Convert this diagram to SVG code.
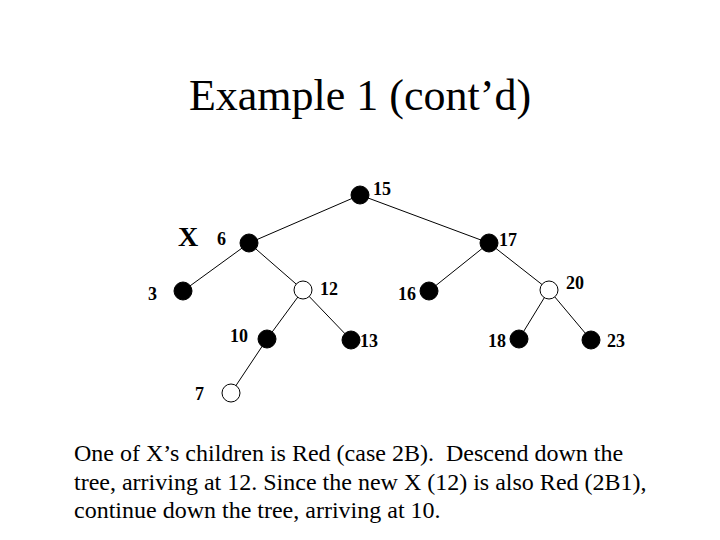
<svg xmlns="http://www.w3.org/2000/svg" width="720" height="540" viewBox="0 0 720 540">
<style>
.b{fill:#000;stroke:#000;stroke-width:1}
.r{fill:#fff;stroke:#000;stroke-width:1}
.l{font-family:"Liberation Serif",serif;font-weight:bold;font-size:18px;fill:#000}
.e{stroke:#000;stroke-width:1}
.t{font-family:"Liberation Serif",serif;font-size:24px;fill:#000;white-space:pre}
</style>
<rect width="720" height="540" fill="#fff"/>
<text x="360" y="110" text-anchor="middle" font-family="Liberation Serif,serif" font-size="44">Example 1 (cont’d)</text>
<g id="edges">
<line class="e" x1="360" y1="195" x2="249" y2="243"/>
<line class="e" x1="360" y1="195" x2="489" y2="243"/>
<line class="e" x1="249" y1="243" x2="183" y2="291"/>
<line class="e" x1="249" y1="243" x2="303" y2="290"/>
<line class="e" x1="489" y1="243" x2="429" y2="291"/>
<line class="e" x1="489" y1="243" x2="549" y2="290"/>
<line class="e" x1="303" y1="290" x2="267" y2="339"/>
<line class="e" x1="303" y1="290" x2="351" y2="340"/>
<line class="e" x1="549" y1="290" x2="519" y2="339"/>
<line class="e" x1="549" y1="290" x2="591" y2="340"/>
<line class="e" x1="267" y1="339" x2="231" y2="393"/>
</g>
<g id="n15"><circle class="b" cx="360" cy="195" r="9"/><text class="l" x="373" y="195">15</text></g>
<g id="n6"><circle class="b" cx="249" cy="243" r="9"/><text class="l" x="217" y="245">6</text><text x="178" y="246" font-family="Liberation Serif,serif" font-weight="bold" font-size="28">X</text></g>
<g id="n17"><circle class="b" cx="489" cy="243" r="9"/><text class="l" x="499" y="246">17</text></g>
<g id="n3"><circle class="b" cx="183" cy="291" r="9"/><text class="l" x="148" y="300">3</text></g>
<g id="n12"><circle class="r" cx="303" cy="290" r="9"/><text class="l" x="320" y="295">12</text></g>
<g id="n16"><circle class="b" cx="429" cy="291" r="9"/><text class="l" x="398" y="300">16</text></g>
<g id="n20"><circle class="r" cx="549" cy="290" r="9"/><text class="l" x="566" y="289">20</text></g>
<g id="n10"><circle class="b" cx="267" cy="339" r="9"/><text class="l" x="230" y="342">10</text></g>
<g id="n13"><circle class="b" cx="351" cy="340" r="9"/><text class="l" x="360" y="347">13</text></g>
<g id="n18"><circle class="b" cx="519" cy="339" r="9"/><text class="l" x="488" y="347">18</text></g>
<g id="n23"><circle class="b" cx="591" cy="340" r="9"/><text class="l" x="607" y="347">23</text></g>
<g id="n7"><circle class="r" cx="231" cy="393" r="9"/><text class="l" x="195" y="400">7</text></g>
<text class="t" x="74" y="461">One of X’s children is Red (case 2B).  Descend down the</text>
<text class="t" x="74" y="490">tree, arriving at 12. Since the new X (12) is also Red (2B1),</text>
<text class="t" x="74" y="518">continue down the tree, arriving at 10.</text>
</svg>
